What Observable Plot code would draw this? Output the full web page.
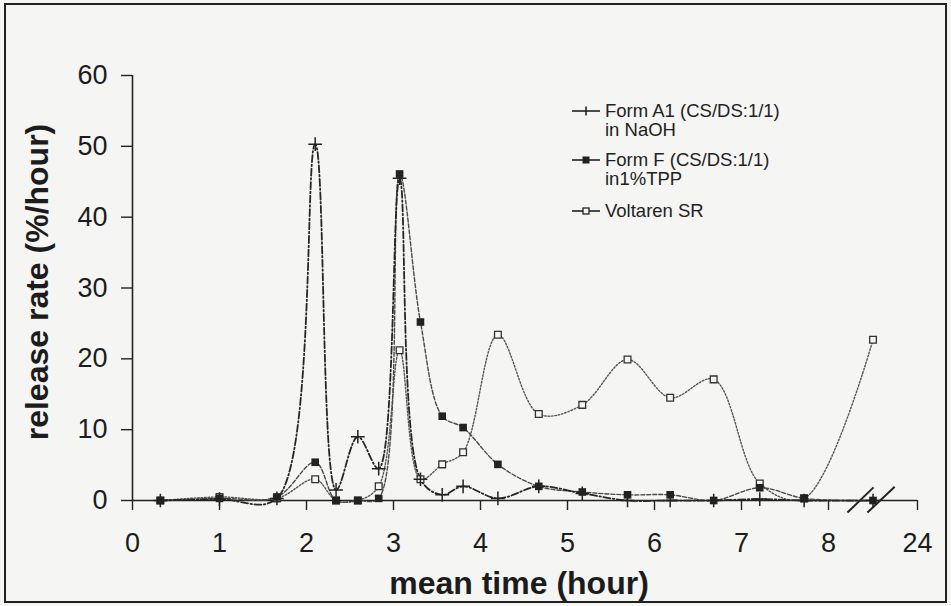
<!DOCTYPE html>
<html><head><meta charset="utf-8">
<script src="https://cdn.jsdelivr.net/npm/d3@7"></script>
<script src="https://cdn.jsdelivr.net/npm/@observablehq/plot@0.6"></script>
<style>
html,body{margin:0;padding:0;background:#f5f5f3;}
#wrap{position:relative;width:951px;height:606px;overflow:hidden;}
#frame{position:absolute;left:4px;top:3px;width:943px;height:600px;border:2px solid #222;box-sizing:border-box;pointer-events:none}
#legend{position:absolute;left:0;top:0;font-family:"Liberation Sans",Arial,sans-serif;font-size:18.5px;color:#222;}
.ltxt{position:absolute;left:605px;height:20px;line-height:20px;white-space:nowrap}
</style></head><body>
<div id="wrap"><div id="chart"></div><div id="legend"></div><div id="frame"></div></div>
<script>
// ---- data ----
const meanTime = [0.32, 1.0, 1.66, 2.1, 2.34, 2.59, 2.83, 3.07, 3.31, 3.56, 3.8, 4.2, 4.67, 5.17, 5.69, 6.18, 6.68, 7.21, 7.72, 16];
const formA1   = [0, 0.2, 0.3, 50.3, 1.5, 9.0, 4.5, 45.5, 3.0, 0.8, 2.0, 0.3, 2.0, 1.0, 0, 0, 0, 0.2, 0, 0];
const formF    = [0, 0.3, 0.5, 5.4, 0, 0, 0.3, 46.1, 25.2, 11.9, 10.3, 5.1, 2.0, 1.2, 0.8, 0.8, 0, 1.8, 0.3, 0];
const voltaren = [0, 0.5, 0.3, 3.0, 0, 0, 2.0, 21.2, 3.0, 5.1, 6.8, 23.4, 12.2, 13.5, 19.9, 14.5, 17.1, 2.4, 0.3, 22.7];
const seriesNames = ["Form A1 (CS/DS:1/1)\nin NaOH", "Form F (CS/DS:1/1)\nin1%TPP", "Voltaren SR"];
const xTicks = [0, 1, 2, 3, 4, 5, 6, 7, 8, 24];
const xDomain = [0, 8, 24];
const yTicks = [0, 10, 20, 30, 40, 50, 60];
const breakMarks = [
  {t1: 11.4, y1: -1.7, t2: 16.1, y2: 1.85},
  {t1: 15.0, y1: -1.7, t2: 19.9, y2: 1.95}
];
const xTitle = "mean time (hour)";
const yTitle = "release rate (%/hour)";

// ---- build tables ----
const tA1 = meanTime.map((t, i) => ({t, v: formA1[i]}));
const tF  = meanTime.map((t, i) => ({t, v: formF[i]}));
const tV  = meanTime.map((t, i) => ({t, v: voltaren[i]}));

const styles = [
  {stroke: "#262626", width: 1.8, dash: "7,2.5,1.5,2.5", symbol: "plus", fill: "none", mstroke: "#222", r: 4.5},
  {stroke: "#4a4a4a", width: 1.4, dash: "4,2", symbol: "square", fill: "#222", mstroke: "#222", r: 4.3},
  {stroke: "#555", width: 1.4, dash: "1.6,1.8", symbol: "square", fill: "#f5f5f3", mstroke: "#333", r: 3.8}
];

const font = "'Liberation Sans', Arial, sans-serif";
const chart = Plot.plot({
  width: 951, height: 606,
  marginLeft: 132, marginRight: 34, marginTop: 75, marginBottom: 106,
  style: {background: "transparent", fontFamily: font, fontSize: "27px", color: "#1c1c1c"},
  x: {type: "linear", domain: xDomain, range: [132, 828, 917]},
  y: {domain: [0, 60]},
  marks: [
    Plot.ruleY([0], {stroke: "#222", strokeWidth: 1.6}),
    Plot.ruleX([0], {stroke: "#222", strokeWidth: 1.6}),
    Plot.axisX({ticks: xTicks, tickSize: 10, tickPadding: 22, tickFormat: d => String(d), label: null, stroke: "#222", strokeWidth: 1.4}),
    Plot.axisY({ticks: yTicks, tickSize: 11, tickPadding: 14, label: null, stroke: "#222", strokeWidth: 1.4}),
    Plot.link(breakMarks, {x1: "t1", y1: "y1", x2: "t2", y2: "y2", stroke: "#222", strokeWidth: 2}),
    Plot.line(tV, {x: "t", y: "v", curve: "catmull-rom", stroke: styles[2].stroke, strokeWidth: styles[2].width, strokeDasharray: styles[2].dash}),
    Plot.line(tF, {x: "t", y: "v", curve: "catmull-rom", stroke: styles[1].stroke, strokeWidth: styles[1].width, strokeDasharray: styles[1].dash}),
    Plot.line(tA1, {x: "t", y: "v", curve: "catmull-rom", stroke: styles[0].stroke, strokeWidth: styles[0].width, strokeDasharray: styles[0].dash}),
    Plot.dot(tV, {x: "t", y: "v", symbol: "square", r: styles[2].r, fill: styles[2].fill, stroke: styles[2].mstroke, strokeWidth: 1.3}),
    Plot.dot(tF, {x: "t", y: "v", symbol: "square", r: styles[1].r, fill: styles[1].fill, stroke: "none"}),
    Plot.dot(tA1, {x: "t", y: "v", symbol: "plus", r: styles[0].r, stroke: styles[0].mstroke, strokeWidth: 1.5}),
    Plot.text([yTitle], {frameAnchor: "left", textAnchor: "middle", lineAnchor: "middle", rotate: -90, dx: -95, dy: -6, fontSize: 32, fontWeight: "bold", fill: "#1c1c1c"}),
    Plot.text([xTitle], {frameAnchor: "bottom", textAnchor: "middle", lineAnchor: "middle", dy: 83, dx: -6, fontSize: 32, fontWeight: "bold", fill: "#1c1c1c"})
  ]
});
document.getElementById("chart").appendChild(chart);

// ---- legend (inside plot area, top right) ----
const legend = document.getElementById("legend");
const rowCenters = [111, 160, 211];
seriesNames.forEach((name, i) => {
  const s = styles[i];
  const lines = name.split("\n");
  const yc = rowCenters[i];
  const sample = document.createElementNS("http://www.w3.org/2000/svg", "svg");
  sample.setAttribute("width", 32); sample.setAttribute("height", 14);
  sample.style.position = "absolute"; sample.style.left = "570px"; sample.style.top = (yc - 7) + "px";
  const ln = document.createElementNS(sample.namespaceURI, "line");
  ln.setAttribute("x1", 2); ln.setAttribute("x2", 30); ln.setAttribute("y1", 7); ln.setAttribute("y2", 7);
  ln.setAttribute("stroke", "#222"); ln.setAttribute("stroke-width", 1.6);
  sample.appendChild(ln);
  if (s.symbol === "plus") {
    const p = document.createElementNS(sample.namespaceURI, "path");
    p.setAttribute("d", "M16,2.5V11.5"); p.setAttribute("stroke", "#222"); p.setAttribute("stroke-width", 1.6);
    sample.appendChild(p);
  } else {
    const r = document.createElementNS(sample.namespaceURI, "rect");
    const sz = i === 1 ? 7 : 6;
    r.setAttribute("x", 16 - sz / 2); r.setAttribute("y", 7 - sz / 2); r.setAttribute("width", sz); r.setAttribute("height", sz);
    r.setAttribute("fill", s.fill); r.setAttribute("stroke", "#222"); r.setAttribute("stroke-width", i === 1 ? 0 : 1.3);
    sample.appendChild(r);
  }
  legend.appendChild(sample);
  lines.forEach((txt, j) => {
    const d = document.createElement("div");
    d.className = "ltxt";
    d.style.top = (yc - 10 + j * 19) + "px";
    d.textContent = txt;
    legend.appendChild(d);
  });
});
</script>
</body></html>
